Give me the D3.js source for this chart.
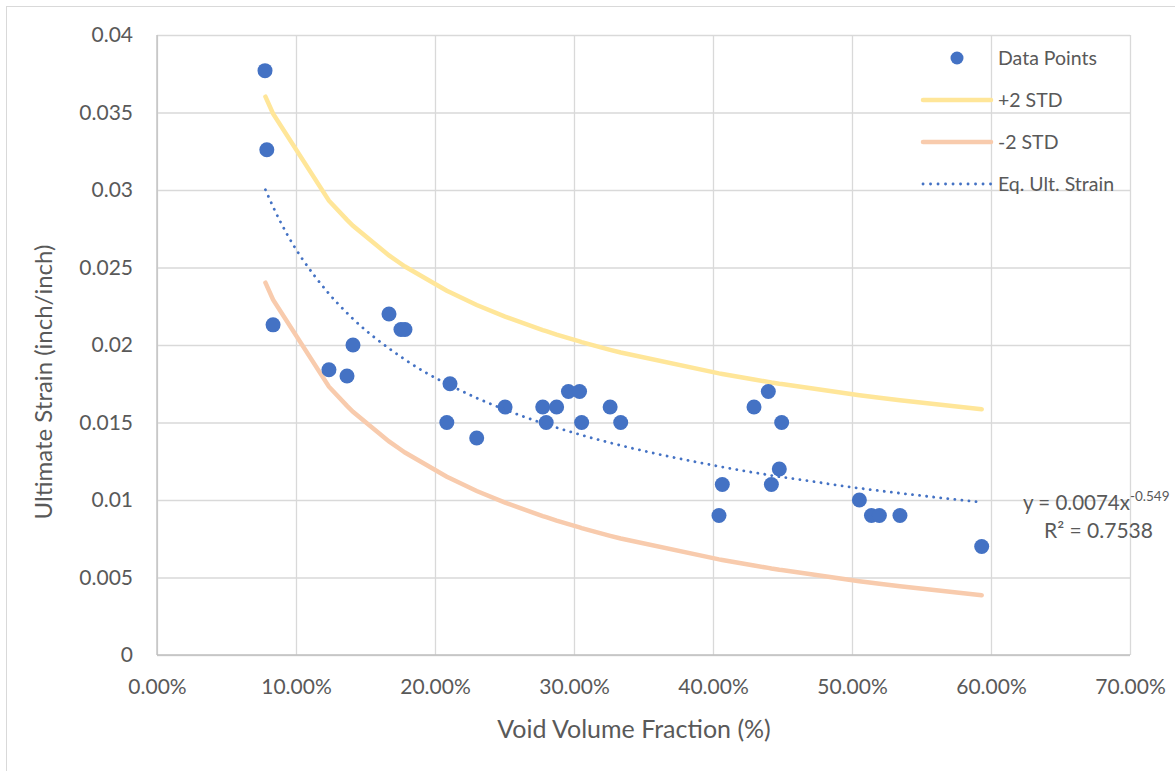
<!DOCTYPE html>
<html>
<head>
<meta charset="utf-8">
<script src="https://cdn.jsdelivr.net/npm/d3@7"></script>
<style>
  body { margin: 0; background: #fff; }
  text { font-family: Lato, "Open Sans", sans-serif; fill: #595959; }
</style>
</head>
<body>
<script>
var W = 1175, H = 771;

// void volume fraction vs ultimate strain
var voidFrac = [0.0777, 0.079, 0.0835, 0.1237, 0.1367, 0.141, 0.1669, 0.1755, 0.1784,
  0.2085, 0.2108, 0.230, 0.2504, 0.2775, 0.280, 0.2875, 0.296, 0.304, 0.3055, 0.326, 0.3336,
  0.4043, 0.4067, 0.4295, 0.4398, 0.442, 0.4477, 0.4494, 0.5053, 0.514, 0.5197, 0.5345, 0.5933];
var strain = [0.0377, 0.0326, 0.0213, 0.0184, 0.018, 0.020, 0.022, 0.021, 0.021,
  0.015, 0.0175, 0.014, 0.016, 0.016, 0.015, 0.016, 0.017, 0.017, 0.015, 0.016, 0.015,
  0.009, 0.011, 0.016, 0.017, 0.011, 0.012, 0.015, 0.010, 0.009, 0.009, 0.009, 0.007];

// trendline and +/- 2 STD bands, sampled at the data x positions
var lineX = [0.078, 0.0835, 0.1237, 0.1367, 0.141, 0.1669, 0.1755, 0.1784, 0.2085, 0.2108,
  0.230, 0.2504, 0.2775, 0.280, 0.2875, 0.296, 0.304, 0.3055, 0.326, 0.3336, 0.4043, 0.4067,
  0.4295, 0.4398, 0.442, 0.4477, 0.4494, 0.5053, 0.514, 0.5197, 0.5345, 0.5933];
var trend = [0.03002, 0.02892, 0.02331, 0.02207, 0.02169, 0.01978, 0.01924, 0.01906, 0.01750, 0.01740,
  0.01658, 0.01583, 0.01496, 0.01489, 0.01467, 0.01444, 0.01423, 0.01419, 0.01369, 0.01352, 0.01217, 0.01213,
  0.01177, 0.01162, 0.01158, 0.01150, 0.01148, 0.01076, 0.01066, 0.01060, 0.01044, 0.00986];
var plus2 = [0.03602, 0.03492, 0.02931, 0.02807, 0.02769, 0.02578, 0.02524, 0.02506, 0.02350, 0.02340,
  0.02258, 0.02183, 0.02096, 0.02089, 0.02067, 0.02044, 0.02023, 0.02019, 0.01969, 0.01952, 0.01817, 0.01813,
  0.01777, 0.01762, 0.01758, 0.01750, 0.01748, 0.01676, 0.01666, 0.01660, 0.01644, 0.01586];
var minus2 = [0.02402, 0.02292, 0.01731, 0.01607, 0.01569, 0.01378, 0.01324, 0.01306, 0.01150, 0.01140,
  0.01058, 0.00983, 0.00896, 0.00889, 0.00867, 0.00844, 0.00823, 0.00819, 0.00769, 0.00752, 0.00617, 0.00613,
  0.00577, 0.00562, 0.00558, 0.00550, 0.00548, 0.00476, 0.00466, 0.00460, 0.00444, 0.00386];

var xTicks = [0, 0.1, 0.2, 0.3, 0.4, 0.5, 0.6, 0.7];
var yTicks = [0, 0.005, 0.01, 0.015, 0.02, 0.025, 0.03, 0.035, 0.04];
var yTickLabels = ["0", "0.005", "0.01", "0.015", "0.02", "0.025", "0.03", "0.035", "0.04"];

var blue = "#4472C4", gold = "#FFE699", peach = "#F8CBAD";

var svg = d3.select("body").append("svg")
  .attr("width", W).attr("height", H);

// chart border
svg.append("rect").attr("x", 6.5).attr("y", 6.5)
  .attr("width", W + 20).attr("height", H + 20)
  .attr("fill", "none").attr("stroke", "#d9d9d9");

var pLeft = 157, pTop = 35, pRight = 1130, pBottom = 655;
var x = d3.scaleLinear().domain([0, 0.7]).range([pLeft, pRight]);
var y = d3.scaleLinear().domain([0, 0.04]).range([pBottom, pTop]);

// gridlines
var yAxis = svg.append("g").attr("transform", "translate(" + pLeft + ",0)")
  .call(d3.axisLeft(y).tickValues(yTicks).tickSize(-(pRight - pLeft)).tickPadding(24)
    .tickFormat(function(d, i) { return yTickLabels[i]; }));
var xAxis = svg.append("g").attr("transform", "translate(0," + pBottom + ")")
  .call(d3.axisBottom(x).tickValues(xTicks).tickSize(-(pBottom - pTop)).tickPadding(24)
    .tickFormat(d3.format(".2%")));
[xAxis, yAxis].forEach(function(a) {
  a.select(".domain").remove();
  a.selectAll("line").attr("stroke", "#d9d9d9").attr("stroke-width", 1.3);
  a.selectAll("text").style("font-size", "21px").attr("fill", "#595959");
});
// axis lines
svg.append("line").attr("x1", pLeft).attr("x2", pLeft).attr("y1", pTop).attr("y2", pBottom)
  .attr("stroke", "#bfbfbf").attr("stroke-width", 1.3);
svg.append("line").attr("x1", pLeft).attr("x2", pRight).attr("y1", pBottom).attr("y2", pBottom)
  .attr("stroke", "#bfbfbf").attr("stroke-width", 1.3);

var line = d3.line().x(function(d) { return x(d[0]); }).y(function(d) { return y(d[1]); });

svg.append("path").datum(d3.zip(lineX, plus2)).attr("d", line)
  .attr("fill", "none").attr("stroke", gold).attr("stroke-width", 4.5).attr("stroke-linecap", "round");
svg.append("path").datum(d3.zip(lineX, minus2)).attr("d", line)
  .attr("fill", "none").attr("stroke", peach).attr("stroke-width", 4.5).attr("stroke-linecap", "round");

svg.selectAll(".pt").data(d3.zip(voidFrac, strain)).enter().append("circle")
  .attr("class", "pt")
  .attr("cx", function(d) { return x(d[0]); })
  .attr("cy", function(d) { return y(d[1]); })
  .attr("r", 7.5).attr("fill", blue);

svg.append("path").datum(d3.zip(lineX, trend))
  .attr("d", line.curve(d3.curveMonotoneX))
  .attr("fill", "none").attr("stroke", blue).attr("stroke-width", 2.8)
  .attr("stroke-linecap", "round").attr("stroke-dasharray", "0.1 7");

// axis titles
svg.append("text").attr("x", 634).attr("y", 738)
  .attr("text-anchor", "middle").style("font-size", "25px").text("Void Volume Fraction (%)");
svg.append("text").attr("transform", "translate(52,382) rotate(-90)")
  .attr("text-anchor", "middle").style("font-size", "24px").text("Ultimate Strain (inch/inch)");

// equation
var eq = svg.append("text").attr("x", 1023).attr("y", 510).style("font-size", "20.5px");
eq.append("tspan").text("y = 0.0074x");
eq.append("tspan").attr("dy", -9).style("font-size", "13.5px").text("-0.549");
svg.append("text").attr("x", 1044).attr("y", 538).style("font-size", "21px").text("R² = 0.7538");

// legend
var legend = [
  { name: "Data Points", type: "dot" },
  { name: "+2 STD", type: "line", color: gold },
  { name: "-2 STD", type: "line", color: peach },
  { name: "Eq. Ult. Strain", type: "dots" }
];
var lg = svg.selectAll(".lg").data(legend).enter().append("g")
  .attr("transform", function(d, i) { return "translate(921," + (58 + i * 42) + ")"; });
lg.each(function(d) {
  var g = d3.select(this);
  if (d.type === "dot") {
    g.append("circle").attr("cx", 36).attr("cy", 0).attr("r", 6.5).attr("fill", blue);
  } else if (d.type === "line") {
    g.append("line").attr("x1", 2).attr("x2", 70).attr("y1", 0).attr("y2", 0)
      .attr("stroke", d.color).attr("stroke-width", 4.5).attr("stroke-linecap", "round");
  } else {
    g.append("line").attr("x1", 2).attr("x2", 70).attr("y1", 0).attr("y2", 0)
      .attr("stroke", blue).attr("stroke-width", 2.8).attr("stroke-linecap", "round")
      .attr("stroke-dasharray", "0.1 7.4");
  }
  g.append("text").attr("x", 77).attr("y", 7).style("font-size", "19.5px").text(d.name);
});
</script>
</body>
</html>
